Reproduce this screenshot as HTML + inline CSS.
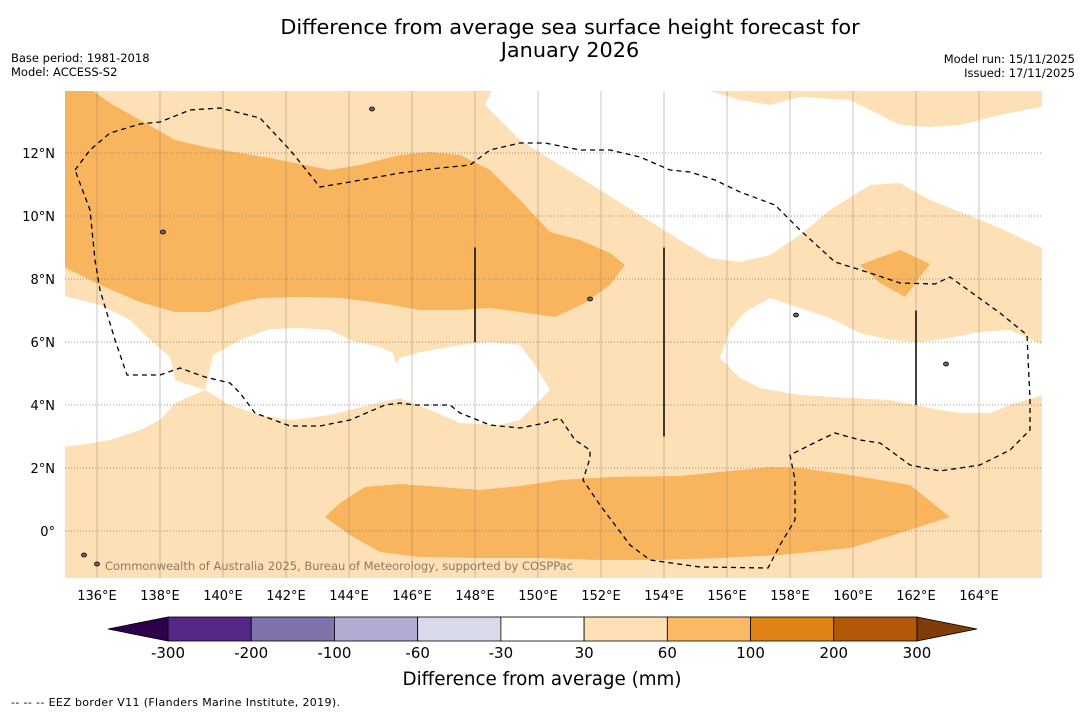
<!DOCTYPE html>
<html><head><meta charset="utf-8"><style>
body{margin:0;background:#fff;font-family:"Liberation Sans","DejaVu Sans",sans-serif}
svg text{font-family:"DejaVu Sans","Liberation Sans",sans-serif}
</style></head><body>
<svg id="c" width="1085" height="713" viewBox="0 0 1085 713" xmlns="http://www.w3.org/2000/svg">
<rect width="1085" height="713" fill="#fff"/>
<text x="570" y="34" text-anchor="middle" font-size="20.8">Difference from average sea surface height forecast for</text>
<text x="570" y="57" text-anchor="middle" font-size="20.8">January 2026</text>
<text x="11" y="62" font-size="11.5">Base period: 1981-2018</text>
<text x="11" y="76" font-size="11.5">Model: ACCESS-S2</text>
<text x="1075" y="63" font-size="11.5" text-anchor="end">Model run: 15/11/2025</text>
<text x="1075" y="77" font-size="11.5" text-anchor="end">Issued: 17/11/2025</text>
<defs><clipPath id="mc"><rect x="65" y="91" width="977" height="487"/></clipPath></defs>
<g id="map" clip-path="url(#mc)"></g>
<g id="axes"></g>
<g id="cbar"></g>
<text x="542" y="685" text-anchor="middle" font-size="18.3">Difference from average (mm)</text>
<text x="11" y="706" font-size="11" textLength="329">--  --  -- EEZ border V11 (Flanders Marine Institute, 2019).</text>
</svg>
<script>
const lonTicks=[136,138,140,142,144,146,148,150,152,154,156,158,160,162,164];
const latTicks=[0,2,4,6,8,10,12];
const levels=[-300,-200,-100,-60,-30,30,60,100,200,300];
const levelColors=["#542788","#8073ac","#b2abd2","#d8daeb","#ffffff","#fee0b6","#fdb863","#e08214","#b35806"];
const extColors=["#2d004b","#7f3b08"];
const whitePx=[
[[495,85],[485,105],[500,120],[520,140],[560,165],[600,190],[640,215],[680,240],[710,258],[740,262],[770,255],[800,235],[830,210],[870,185],[900,183],[930,200],[960,212],[1000,228],[1050,252],[1050,105],[1000,115],[960,125],[930,127],[900,125],[850,100],[800,97],[770,105],[740,100],[690,85]],
[[60,447],[80,445],[110,440],[140,430],[160,420],[175,403],[205,390],[175,380],[170,357],[150,340],[130,320],[100,305],[60,295]],
[[205,390],[230,405],[260,415],[290,420],[330,415],[370,405],[400,398],[430,410],[460,423],[500,425],[520,420],[550,390],[535,365],[520,345],[490,342],[460,345],[420,352],[400,358],[396,364],[393,353],[380,347],[350,340],[330,330],[300,328],[270,329],[240,340],[213,355]],
[[720,358],[730,330],[745,312],[770,298],[800,308],[830,318],[860,333],[890,340],[920,342],[950,338],[980,332],[1010,330],[1050,348],[1050,393],[1010,405],[990,413],[960,413],[930,408],[890,400],[850,398],[800,395],[760,388],[740,378]]
];
const orangePx=[
[[60,85],[85,85],[110,103],[140,120],[175,140],[210,148],[270,158],[330,170],[360,165],[400,155],[430,152],[460,155],[490,170],[520,200],[550,232],[580,240],[610,253],[625,265],[610,285],[585,303],[555,317],[520,312],[490,308],[460,310],[420,310],[380,303],[340,298],[300,297],[260,298],[240,302],[210,312],[175,312],[140,302],[100,285],[60,265]],
[[325,517],[340,503],[365,487],[400,484],[440,487],[480,490],[520,486],[560,480],[610,477],[680,476],[720,472],[770,467],[800,468],[850,475],[910,485],[950,517],[900,533],[850,548],[780,555],[720,558],[660,560],[600,560],[540,558],[480,558],[420,557],[380,552],[350,535]],
[[860,265],[900,250],[930,264],[905,297],[880,283]]
];
const eezPx=[[75,170],[90,150],[110,133],[140,124],[160,122],[190,110],[220,108],[260,118],[290,150],[320,187],[350,182],[400,173],[440,168],[470,165],[490,150],[520,143],[545,143],[580,150],[610,150],[640,157],[670,170],[690,172],[715,180],[740,192],[775,205],[800,230],[835,262],[870,273],[900,283],[935,284],[950,277],[975,295],[1000,313],[1027,335],[1030,400],[1030,430],[1010,450],[980,465],[940,471],[910,465],[880,443],[860,440],[835,433],[820,440],[800,450],[790,455],[795,480],[795,520],[780,545],[768,568],[700,567],[650,560],[630,545],[615,525],[600,505],[583,480],[590,458],[590,450],[575,440],[560,418],[545,423],[520,428],[490,425],[460,413],[450,405],[415,405],[400,403],[385,405],[350,420],[320,426],[290,426],[255,413],[240,393],[230,383],[205,377],[180,368],[160,375],[127,375],[115,340],[100,290],[95,260],[90,210],[75,170]];
const vLines=[[148,9,6],[154,9,3],[162,7,4]];
const NS="http://www.w3.org/2000/svg";
const x=l=>97+(l-136)*31.5, y=a=>531-a*31.5;
const toLL=p=>p.map(([px,py])=>[136+(px-97)/31.5,(531-py)/31.5]);
function mk(t,attrs,parent){const e=document.createElementNS(NS,t);for(const k in attrs)e.setAttribute(k,attrs[k]);parent.appendChild(e);return e;}
const map=document.getElementById('map');
let r=mk('rect',{x:65,y:91,width:977,height:487,fill:"#fee0b6"},map);


const pts=ll=>ll.map(([lo,la])=>x(lo).toFixed(1)+','+y(la).toFixed(1)).join(' ');
whitePx.forEach((p,i)=>{const e=mk('polygon',{points:pts(toLL(p)),fill:"#fff"},map);

});
orangePx.forEach((p,i)=>{const e=mk('polygon',{points:pts(toLL(p)),fill:"#f9b45e"},map);

});
lonTicks.forEach(l=>{const e=mk('line',{x1:x(l),x2:x(l),y1:91,y2:578,stroke:"#8a7a66","stroke-width":0.6,opacity:0.7},map);

});
latTicks.forEach(a=>{const e=mk('line',{x1:65,x2:1042,y1:y(a),y2:y(a),stroke:"#777","stroke-width":0.8,"stroke-dasharray":"1,2"},map);

});
let ez=mk('polyline',{points:pts(toLL(eezPx)),fill:"none",stroke:"#000","stroke-width":1.3,"stroke-dasharray":"5,4"},map);


vLines.forEach(([lo,a1,a2])=>{const e=mk('line',{x1:x(lo),x2:x(lo),y1:y(a1),y2:y(a2),stroke:"#000","stroke-width":1.5},map);

});
[[372,109],[796,315],[163,232],[946,364],[590,299],[84,555],[97,564]].forEach(([px,py])=>{const e=mk('ellipse',{cx:px,cy:py,rx:2.5,ry:2,fill:"#666",stroke:"#000","stroke-width":0.8},map);

});
let cp=mk('text',{x:105,y:570,"font-size":11.5,fill:"#8a7a66",textLength:468},map);cp.textContent="Commonwealth of Australia 2025, Bureau of Meteorology, supported by COSPPac";


const ax=document.getElementById('axes');
lonTicks.forEach(l=>{const e=mk('text',{x:x(l),y:600,"text-anchor":"middle","font-size":13},ax);e.textContent=l+'°E';

});
latTicks.forEach(a=>{const e=mk('text',{x:55,y:y(a)+5,"text-anchor":"end","font-size":13},ax);e.textContent=a===0?'0°':a+'°N';

});
const cb=document.getElementById('cbar');
const cx0=168,cw=(917-168)/levelColors.length,cy=617,ch=24;
levelColors.forEach((c,i)=>{const e=mk('rect',{x:cx0+i*cw,y:cy,width:cw,height:ch,fill:c,stroke:"#000","stroke-width":0.8},cb);

});
let l1=mk('polygon',{points:`${cx0},${cy} 108,${cy+ch/2} ${cx0},${cy+ch}`,fill:extColors[0],stroke:"#000","stroke-width":0.8},cb);


let l2=mk('polygon',{points:`917,${cy} 977,${cy+ch/2} 917,${cy+ch}`,fill:extColors[1],stroke:"#000","stroke-width":0.8},cb);


levels.forEach((v,i)=>{const e=mk('text',{x:cx0+i*cw,y:658,"text-anchor":"middle","font-size":15},cb);e.textContent=v;

});
</script>
</body></html>
